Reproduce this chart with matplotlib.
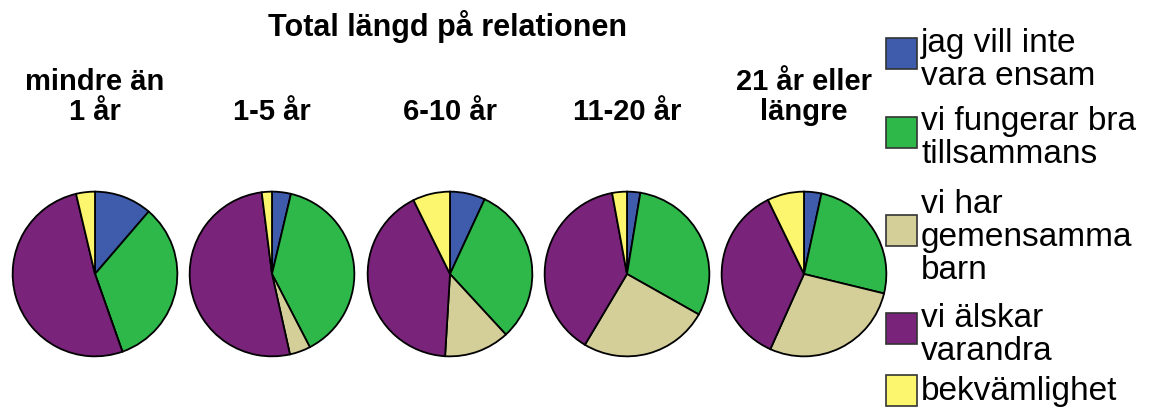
import matplotlib

matplotlib.use("Agg")
import matplotlib.pyplot as plt
from matplotlib.patches import Rectangle

plt.rcParams["font.family"] = ["Liberation Sans", "DejaVu Sans"]

# Данные (доли, %), по часовой стрелке от 12 часов
groups = ["mindre än\n1 år", "1-5 år", "6-10 år", "11-20 år", "21 år eller\nlängre"]
categories = [
    "jag vill inte\nvara ensam",
    "vi fungerar bra\ntillsammans",
    "vi har\ngemensamma\nbarn",
    "vi älskar\nvarandra",
    "bekvämlighet",
]
vill_inte_vara_ensam = [11.3, 3.7, 6.9, 2.6, 3.4]
fungerar_bra = [33.3, 38.7, 31.2, 30.6, 25.4]
gemensamma_barn = [0.0, 4.1, 12.8, 25.4, 27.9]
alskar_varandra = [51.7, 51.5, 41.7, 38.6, 36.1]
bekvamlighet = [3.7, 2.0, 7.3, 2.9, 7.2]

colors = ["#3E5BAC", "#2EB84A", "#D4CF98", "#79237A", "#FCF66E"]

W, H = 1163, 415
fig = plt.figure(figsize=(W / 100, H / 100), dpi=100)


def px_text(x, y, s, **kw):
    """Текст по пиксельным координатам (y сверху), базовая линия в y."""
    fig.text(x / W, 1 - y / H, s, va="baseline", **kw)


px_text(448, 36, "Total längd på relationen", ha="center",
        fontsize=22, fontweight="bold")

centers_x = [95, 272, 450, 627, 804]
cy = 274
r = 84
series = [vill_inte_vara_ensam, fungerar_bra, gemensamma_barn,
          alskar_varandra, bekvamlighet]

for i, (label, cx) in enumerate(zip(groups, centers_x)):
    vals = [s[i] for s in series]
    ax = fig.add_axes([(cx - r) / W, (H - cy - r) / H, 2 * r / W, 2 * r / H])
    ax.pie(vals, colors=colors, startangle=90, counterclock=False, radius=1,
           wedgeprops=dict(edgecolor="black", linewidth=1.3))
    ax.set_xlim(-1.02, 1.02)
    ax.set_ylim(-1.02, 1.02)
    ax.set_aspect("equal")
    ax.axis("off")
    lines = label.split("\n")
    for k, line in enumerate(reversed(lines)):
        px_text(cx, 120 - 30 * k, line, ha="center",
                fontsize=21, fontweight="bold")

# Легенда
box_top = [38, 117, 215, 313, 375]
first_baseline = [52, 130, 213, 327, 400]
for cat, col, bt, fb in zip(categories, colors, box_top, first_baseline):
    fig.patches.append(Rectangle((886 / W, (H - bt - 31) / H), 31 / W, 31 / H,
                                 transform=fig.transFigure, facecolor=col,
                                 edgecolor="#333333", linewidth=1.2))
    for k, line in enumerate(cat.split("\n")):
        px_text(921, fb + 33 * k, line, ha="left", fontsize=24)

fig.savefig("out.png", dpi=100)
